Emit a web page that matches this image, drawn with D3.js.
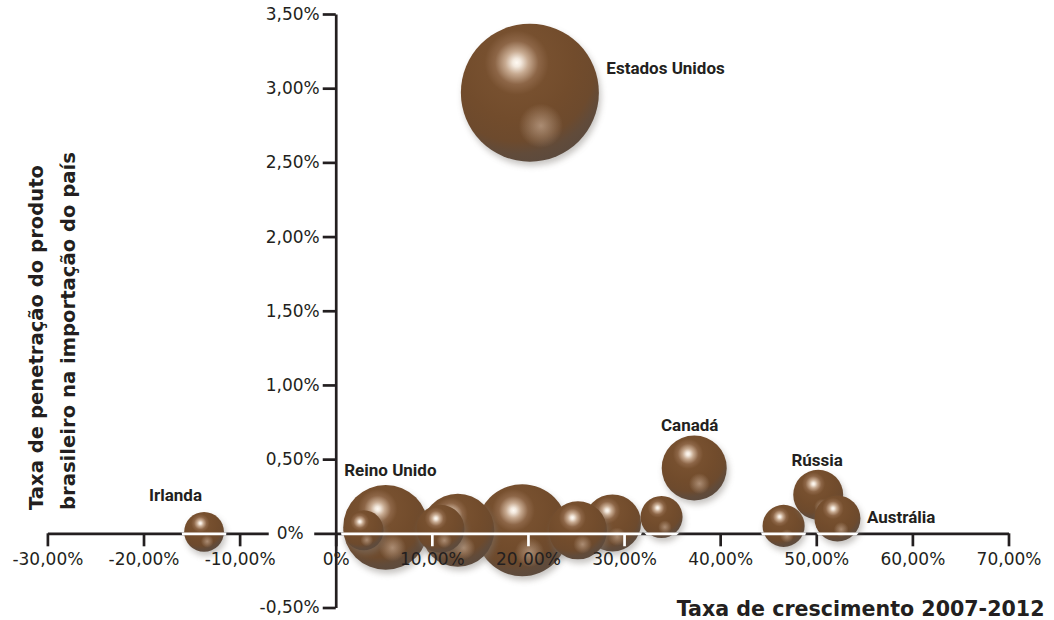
<!DOCTYPE html>
<html>
<head>
<meta charset="utf-8">
<script src="https://cdn.jsdelivr.net/npm/d3@7"></script>
<style>
  html, body { margin: 0; padding: 0; background: #fff; }
  svg { display: block; }
</style>
</head>
<body>
<svg id="chart" width="1054" height="620"></svg>
<script>
// Países (ordem de desenho: os primeiros ficam atrás)
const paises      = ["", "", "", "Reino Unido", "", "", "", "", "", "Rússia", "Austrália", "Canadá", "Irlanda", "Estados Unidos"];
// Taxa de crescimento 2007-2012 (%)
const crescimento = [19.4, 28.8, 25.2, 5.2, 12.7, 10.9, 2.9, 33.9, 46.6, 50.2, 52.2, 37.3, -13.7, 20.2];
// Taxa de penetração do produto brasileiro na importação do país (%)
const penetracao  = [0.02, 0.07, 0.02, 0.04, 0.02, 0.03, 0.02, 0.11, 0.05, 0.26, 0.10, 0.44, 0.01, 2.97];
// Volume importado (índice, Estados Unidos = 100) -> área da bolha
const volume      = [44.4, 17.1, 17.7, 37.9, 28.0, 12.1, 8.4, 9.3, 9.3, 13.1, 11.1, 22.2, 8.3, 100];

const xTicks      = [-30, -20, -10, 0, 10, 20, 30, 40, 50, 60, 70];
const xTickLabels = ["-30,00%", "-20,00%", "-10,00%", "0%", "10,00%", "20,00%", "30,00%", "40,00%", "50,00%", "60,00%", "70,00%"];
const yTicks      = [-0.5, 0, 0.5, 1, 1.5, 2, 2.5, 3, 3.5];
const yTickLabels = ["-0,50%", "0%", "0,50%", "1,00%", "1,50%", "2,00%", "2,50%", "3,00%", "3,50%"];

const bolhas = paises.map((p, i) => ({ pais: p, x: crescimento[i], y: penetracao[i], v: volume[i] }));

// Posição de cada rótulo em relação à sua bolha
const rotuloPos = {
  "Estados Unidos": { ax: 1,  ay: 0,  dx: 7.5,   dy: -19,  anchor: "start" },
  "Austrália":      { ax: 1,  ay: 0,  dx: 6.5,   dy: 5,    anchor: "start" },
  "Canadá":         { ax: 0,  ay: -1, dx: -4.5,  dy: -4.5, anchor: "middle" },
  "Rússia":         { ax: 0,  ay: -1, dx: -1,    dy: -3.5, anchor: "middle" },
  "Irlanda":        { ax: 0,  ay: -1, dx: -28.5, dy: -11,  anchor: "middle" },
  "Reino Unido":    { ax: -1, ay: -1, dx: 1,     dy: -9,   anchor: "start" }
};

const svg = d3.select("#chart");
const x = d3.scaleLinear().domain([-30, 70]).range([47.4, 1008.5]);
const y = d3.scaleLinear().domain([-0.5, 3.5]).range([607.5, 14]);
const r = d3.scaleSqrt().domain([0, 100]).range([0, 69]);

const tinta = "#231f20";
const fonteEixo = "'DejaVu Sans', sans-serif";
const fonteRotulo = "Roboto, 'DejaVu Sans Condensed', sans-serif";

// ---- Gradientes e filtros das esferas
const defs = svg.append("defs");
const corpo = defs.append("radialGradient").attr("id", "corpo")
  .attr("cx", 0.405).attr("cy", 0.283).attr("r", 0.75)
  .attr("fx", 0.405).attr("fy", 0.283);
[
  [0.00, "#fffaf3"], [0.04, "#f3e9de"], [0.11, "#c7aa91"], [0.21, "#8d6647"],
  [0.31, "#77502f"], [0.55, "#724c2c"], [0.76, "#6d4a2d"], [0.88, "#614b3a"], [1.00, "#5b4a3e"]
].forEach(([o, c]) => corpo.append("stop").attr("offset", o).attr("stop-color", c));

const reflexo = defs.append("radialGradient").attr("id", "reflexo")
  .attr("cx", 0.58).attr("cy", 0.74).attr("r", 0.16);
reflexo.append("stop").attr("offset", 0).attr("stop-color", "#dcc2ad").attr("stop-opacity", 0.55);
reflexo.append("stop").attr("offset", 1).attr("stop-color", "#dcc2ad").attr("stop-opacity", 0);

defs.append("filter").attr("id", "sombra")
  .attr("x", "-40%").attr("y", "-40%").attr("width", "180%").attr("height", "180%")
  .append("feGaussianBlur").attr("stdDeviation", 3);

const clip = defs.append("clipPath").attr("id", "recorteBolhas");
clip.selectAll("circle").data(bolhas).join("circle")
  .attr("cx", d => x(d.x)).attr("cy", d => y(d.y)).attr("r", d => r(d.v) + 2.5);

// ---- Eixos
const fmtX = d => xTickLabels[xTicks.indexOf(d)];
const fmtY = d => yTickLabels[yTicks.indexOf(d)];
const eixoX = d3.axisBottom(x).tickValues(xTicks).tickFormat(fmtX).tickSize(13).tickSizeOuter(0).tickPadding(6.5);
const eixoY = d3.axisLeft(y).tickValues(yTicks).tickFormat(fmtY).tickSize(13).tickSizeOuter(0).tickPadding(3);

function estiloLinhas(g, cor) {
  g.select(".domain").attr("stroke", cor).attr("stroke-width", 2.7);
  g.selectAll(".tick line").attr("stroke", cor).attr("stroke-width", 2.7);
}

// linhas dos eixos (abaixo das bolhas)
const gLinhas = svg.append("g");
const gxLinhas = gLinhas.append("g").attr("transform", `translate(0,${y(0)})`).call(eixoX);
gxLinhas.selectAll("text").remove();
estiloLinhas(gxLinhas, tinta);
const gyLinhas = gLinhas.append("g").attr("transform", `translate(${x(0)},0)`).call(eixoY);
gyLinhas.selectAll("text").remove();
gyLinhas.selectAll(".tick").filter(d => d === 0).select("line").remove();
estiloLinhas(gyLinhas, tinta);

// ---- Bolhas
const gBolhas = svg.append("g");
const bolha = gBolhas.selectAll("g").data(bolhas).join("g");
bolha.append("circle")
  .attr("cx", d => x(d.x) + 2).attr("cy", d => y(d.y) + 4).attr("r", d => r(d.v))
  .attr("fill", "#807a74").attr("opacity", 0.45).attr("filter", "url(#sombra)");
bolha.append("circle")
  .attr("cx", d => x(d.x)).attr("cy", d => y(d.y)).attr("r", d => r(d.v))
  .attr("fill", "url(#corpo)");
bolha.append("circle")
  .attr("cx", d => x(d.x)).attr("cy", d => y(d.y)).attr("r", d => r(d.v))
  .attr("fill", "url(#reflexo)");

// eixo X em branco por cima das bolhas
const gBranco = svg.append("g").attr("clip-path", "url(#recorteBolhas)");
const gxBranco = gBranco.append("g").attr("transform", `translate(0,${y(0)})`).call(eixoX);
gxBranco.selectAll("text").remove();
estiloLinhas(gxBranco, "#ffffff");

// ---- Rótulos dos eixos (por cima de tudo)
const gxTextos = svg.append("g").attr("transform", `translate(0,${y(0)})`).call(eixoX);
gxTextos.select(".domain").remove();
gxTextos.selectAll(".tick line").remove();
gxTextos.selectAll("text").style("font-size", "17px").style("font-family", fonteEixo).style("fill", tinta);

const gyTextos = svg.append("g").attr("transform", `translate(${x(0)},0)`).call(eixoY);
gyTextos.select(".domain").remove();
gyTextos.selectAll(".tick line").remove();
gyTextos.selectAll("text").style("font-size", "17px").style("font-family", fonteEixo).style("fill", tinta);
// o "0%" do eixo vertical fica afastado, interrompendo a linha horizontal
const zero = gyTextos.selectAll(".tick").filter(d => d === 0);
zero.select("text").attr("x", -32);
zero.insert("rect", "text").attr("x", -67).attr("y", -10).attr("width", 45.5).attr("height", 20).attr("fill", "#fff");

// ---- Rótulos das bolhas
svg.append("g").selectAll("text")
  .data(bolhas.filter(d => d.pais !== ""))
  .join("text")
  .attr("x", d => { const p = rotuloPos[d.pais]; return x(d.x) + p.ax * r(d.v) + p.dx; })
  .attr("y", d => { const p = rotuloPos[d.pais]; return y(d.y) + p.ay * r(d.v) + p.dy; })
  .attr("text-anchor", d => rotuloPos[d.pais].anchor)
  .style("font-family", fonteRotulo)
  .style("font-weight", "bold")
  .style("font-size", "17px")
  .style("fill", tinta)
  .text(d => d.pais);

// ---- Títulos dos eixos
svg.append("text")
  .attr("x", 1044.5).attr("y", 615.5).attr("text-anchor", "end")
  .style("font-family", fonteEixo).style("font-weight", "bold").style("font-size", "20.6px").style("fill", tinta)
  .text("Taxa de crescimento 2007-2012");

const tituloY = ["Taxa de penetração do produto", "brasileiro na importação do país"];
svg.append("g").selectAll("text").data(tituloY).join("text")
  .attr("transform", (d, i) => `translate(${43 + i * 32},510) rotate(-90)`)
  .style("font-family", fonteEixo).style("font-weight", "bold").style("font-size", "19.6px").style("fill", tinta)
  .text(d => d);
</script>
</body>
</html>
